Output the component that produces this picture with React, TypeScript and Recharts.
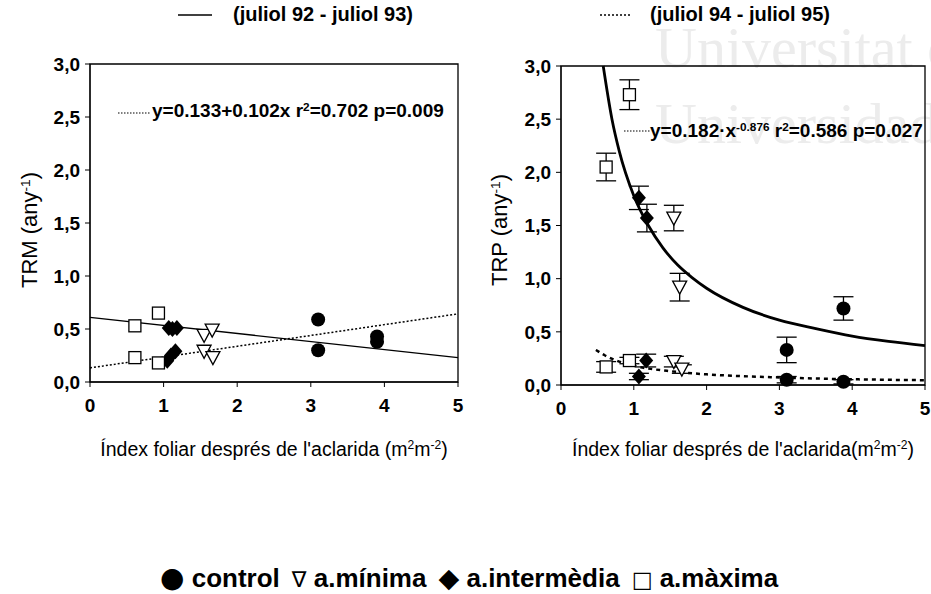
import React from 'react';
import {
  ComposedChart,
  Scatter,
  Line,
  XAxis,
  YAxis,
  ErrorBar,
  ReferenceArea,
} from 'recharts';

// tick labels
const xTicks = [0, 1, 2, 3, 4, 5];
const yTicks = [0, 0.5, 1, 1.5, 2, 2.5, 3];

// TRM panel (left)
const trmControl = [
  { x: 3.1, y: 0.59 },
  { x: 3.1, y: 0.3 },
  { x: 3.9, y: 0.43 },
  { x: 3.9, y: 0.38 },
];
const trmMinima = [
  { x: 1.55, y: 0.44 },
  { x: 1.66, y: 0.49 },
  { x: 1.55, y: 0.29 },
  { x: 1.67, y: 0.23 },
];
const trmIntermedia = [
  { x: 1.07, y: 0.51 },
  { x: 1.12, y: 0.5 },
  { x: 1.18, y: 0.51 },
  { x: 1.05, y: 0.2 },
  { x: 1.1, y: 0.25 },
  { x: 1.16, y: 0.29 },
];
const trmMaxima = [
  { x: 0.61, y: 0.53 },
  { x: 0.93, y: 0.65 },
  { x: 0.61, y: 0.23 },
  { x: 0.93, y: 0.18 },
];
const trmFit9293 = [
  { x: 0, y: 0.61 },
  { x: 5, y: 0.23 },
];
const trmFit9495 = [
  { x: 0, y: 0.133 },
  { x: 5, y: 0.643 },
];

// TRP panel (right) - mean and error bar half-length
const trpControl = [
  { x: 3.1, y: 0.33, e: 0.12 },
  { x: 3.1, y: 0.05, e: 0.03 },
  { x: 3.88, y: 0.72, e: 0.11 },
  { x: 3.88, y: 0.03, e: 0.02 },
];
const trpMinima = [
  { x: 1.55, y: 1.57, e: 0.12 },
  { x: 1.63, y: 0.92, e: 0.13 },
  { x: 1.55, y: 0.22, e: 0.05 },
  { x: 1.66, y: 0.15, e: 0.04 },
];
const trpIntermedia = [
  { x: 1.07, y: 1.76, e: 0.11 },
  { x: 1.18, y: 1.57, e: 0.13 },
  { x: 1.07, y: 0.08, e: 0.03 },
  { x: 1.17, y: 0.23, e: 0.06 },
];
const trpMaxima = [
  { x: 0.62, y: 2.05, e: 0.13 },
  { x: 0.94, y: 2.73, e: 0.14 },
  { x: 0.62, y: 0.17, e: 0.05 },
  { x: 0.94, y: 0.23, e: 0.03 },
];
// fitted curves
const trpFit9293 = [
  { x: 0.58, y: 3.0 }, { x: 0.7, y: 2.5 }, { x: 0.8, y: 2.2 }, { x: 1.0, y: 1.78 },
  { x: 1.2, y: 1.5 }, { x: 1.4, y: 1.29 }, { x: 1.6, y: 1.13 }, { x: 1.8, y: 1.01 },
  { x: 2.0, y: 0.91 }, { x: 2.5, y: 0.73 }, { x: 3.0, y: 0.61 }, { x: 3.5, y: 0.53 },
  { x: 4.0, y: 0.46 }, { x: 4.5, y: 0.41 }, { x: 5.0, y: 0.37 },
];
const trpFit9495 = [
  { x: 0.48, y: 0.33 }, { x: 0.6, y: 0.28 }, { x: 0.8, y: 0.22 }, { x: 1.0, y: 0.18 },
  { x: 1.25, y: 0.15 }, { x: 1.5, y: 0.13 }, { x: 2.0, y: 0.1 }, { x: 2.5, y: 0.083 },
  { x: 3.0, y: 0.071 }, { x: 3.5, y: 0.061 }, { x: 4.0, y: 0.054 }, { x: 4.5, y: 0.049 },
  { x: 5.0, y: 0.045 },
];

// bottom legend
const legendItems = [
  { sym: '●', label: 'control' },
  { sym: '∇', label: 'a.mínima' },
  { sym: '◆', label: 'a.intermèdia' },
  { sym: '□', label: 'a.màxima' },
];

const FONT = '"Liberation Sans", Arial, sans-serif';

const CircleMark = (p: any) => <circle cx={p.cx} cy={p.cy} r={7} fill="#000" />;
const TriangleMark = (p: any) => (
  <polygon
    points={`${p.cx - 7},${p.cy - 6} ${p.cx + 7},${p.cy - 6} ${p.cx},${p.cy + 7}`}
    fill="#fff"
    stroke="#000"
    strokeWidth={1.3}
  />
);
const DiamondMark = (p: any) => (
  <polygon
    points={`${p.cx},${p.cy - 8} ${p.cx + 7},${p.cy} ${p.cx},${p.cy + 8} ${p.cx - 7},${p.cy}`}
    fill="#000"
  />
);
const SquareMark = (p: any) => (
  <rect x={p.cx - 6} y={p.cy - 6} width={12} height={12} fill="#fff" stroke="#000" strokeWidth={1.3} />
);

const fmtY = (v: number) => v.toFixed(1).replace('.', ',');
const tickStyle = { fill: '#000', fontSize: 19, fontWeight: 'bold', fontFamily: FONT };
const symSize: Record<string, number> = { '●': 28, '∇': 22, '◆': 27, '□': 22 };

function Panel({ width, height, margin, yWidth, lines, groups, errors }: any) {
  return (
    <ComposedChart width={width} height={height} margin={margin}>
      <XAxis
        type="number"
        dataKey="x"
        domain={[0, 5]}
        ticks={xTicks}
        tick={tickStyle}
        tickSize={5}
        tickMargin={12}
        stroke="#000"
        height={40}
      />
      <YAxis
        type="number"
        dataKey="y"
        domain={[0, 3]}
        ticks={yTicks}
        tickFormatter={fmtY}
        tick={tickStyle}
        tickSize={5}
        tickMargin={5}
        stroke="#000"
        width={yWidth}
      />
      <ReferenceArea x1={0} x2={5} y1={0} y2={3} fill="none" stroke="#000" strokeWidth={1.3} />
      {lines.map((l: any, i: number) => (
        <Line
          key={i}
          data={l.data}
          dataKey="y"
          type={l.type}
          stroke="#000"
          strokeWidth={l.width}
          strokeDasharray={l.dash}
          dot={false}
          activeDot={false}
          isAnimationActive={false}
        />
      ))}
      {groups.map((g: any, i: number) => (
        <Scatter key={i} data={g.data} dataKey="y" shape={g.shape} isAnimationActive={false}>
          {errors && <ErrorBar dataKey="e" direction="y" width={10} stroke="#000" strokeWidth={1.3} />}
        </Scatter>
      ))}
    </ComposedChart>
  );
}

const Sup = ({ children }: any) => (
  <span style={{ fontSize: '0.62em', verticalAlign: '0.55em' }}>{children}</span>
);

export default function App() {
  const abs = (left: number, top: number, extra: any = {}) => ({
    position: 'absolute' as const,
    left,
    top,
    fontFamily: FONT,
    color: '#000',
    whiteSpace: 'nowrap' as const,
    lineHeight: 1.15,
    ...extra,
  });

  return (
    <div style={{ position: 'absolute', left: 0, top: 0, width: 931, height: 594, background: '#fff', overflow: 'hidden' }}>
      {/* watermark */}
      <div style={abs(655, 10, { fontFamily: '"Liberation Serif", "Times New Roman", serif', fontSize: 58, lineHeight: '76px', color: '#ececec' })}>
        Universitat de
        <br />
        Universidad de
      </div>

      {/* top legend */}
      <svg style={{ position: 'absolute', left: 0, top: 0 }} width={931} height={30}>
        <line x1={178} x2={212} y1={15} y2={15} stroke="#000" strokeWidth={1.5} />
        <line x1={600} x2={632} y1={15} y2={15} stroke="#000" strokeWidth={1.5} strokeDasharray="2 2" />
      </svg>
      <div style={abs(233, 3, { fontSize: 20, fontWeight: 'bold' })}>(juliol 92 - juliol 93)</div>
      <div style={abs(650, 3, { fontSize: 20, fontWeight: 'bold' })}>(juliol 94 - juliol 95)</div>

      <div style={{ position: 'absolute', left: 0, top: 0 }}>
        <Panel
          width={480}
          height={470}
          margin={{ top: 64, right: 22, bottom: 48, left: 0 }}
          yWidth={90}
          lines={[
            { data: trmFit9293, type: 'linear', width: 1.3 },
            { data: trmFit9495, type: 'linear', width: 1.5, dash: '2 2' },
          ]}
          groups={[
            { data: trmControl, shape: CircleMark },
            { data: trmMinima, shape: TriangleMark },
            { data: trmIntermedia, shape: DiamondMark },
            { data: trmMaxima, shape: SquareMark },
          ]}
        />
      </div>
      <div style={{ position: 'absolute', left: 470, top: 0 }}>
        <Panel
          width={461}
          height={470}
          margin={{ top: 66, right: 6, bottom: 45, left: 0 }}
          yWidth={91}
          lines={[
            { data: trpFit9293, type: 'monotone', width: 2.8 },
            { data: trpFit9495, type: 'monotone', width: 2.5, dash: '4 4' },
          ]}
          groups={[
            { data: trpControl, shape: CircleMark },
            { data: trpMinima, shape: TriangleMark },
            { data: trpIntermedia, shape: DiamondMark },
            { data: trpMaxima, shape: SquareMark },
          ]}
          errors
        />
      </div>

      {/* equations */}
      <svg style={{ position: 'absolute', left: 0, top: 0 }} width={931} height={160}>
        <line x1={118} x2={150} y1={113} y2={113} stroke="#000" strokeWidth={1.2} strokeDasharray="1.5 1.5" />
        <line x1={624} x2={650} y1={131} y2={131} stroke="#000" strokeWidth={1.2} strokeDasharray="1.5 1.5" />
      </svg>
      <div style={abs(152, 100, { fontSize: 19, fontWeight: 'bold' })}>
        y=0.133+0.102x r<Sup>2</Sup>=0.702 p=0.009
      </div>
      <div style={abs(650, 120, { fontSize: 19, fontWeight: 'bold' })}>
        y=0.182·x<Sup>-0.876</Sup> r<Sup>2</Sup>=0.586 p=0.027
      </div>

      {/* axis titles */}
      <div style={abs(30, 230, { fontSize: 22, transform: 'translate(-50%, -50%) rotate(-90deg)' })}>
        TRM (any<Sup>-1</Sup>)
      </div>
      <div style={abs(500, 230, { fontSize: 22, transform: 'translate(-50%, -50%) rotate(-90deg)' })}>
        TRP (any<Sup>-1</Sup>)
      </div>
      <div style={abs(274, 438, { fontSize: 19.5, transform: 'translateX(-50%)' })}>
        Índex foliar després de l'aclarida (m<Sup>2</Sup>m<Sup>-2</Sup>)
      </div>
      <div style={abs(743, 438, { fontSize: 19.5, transform: 'translateX(-50%)' })}>
        Índex foliar després de l'aclarida(m<Sup>2</Sup>m<Sup>-2</Sup>)
      </div>

      {/* marker legend */}
      <div style={abs(160, 563, { fontSize: 26, fontWeight: 'bold', lineHeight: '30px' })}>
        {legendItems.map((it, i) => (
          <span key={i} style={{ marginRight: 12 }}>
            <span style={{ fontFamily: '"DejaVu Sans", sans-serif', fontWeight: 'normal', fontSize: symSize[it.sym] }}>
              {it.sym}
            </span>{' '}
            {it.label}
          </span>
        ))}
      </div>
    </div>
  );
}
